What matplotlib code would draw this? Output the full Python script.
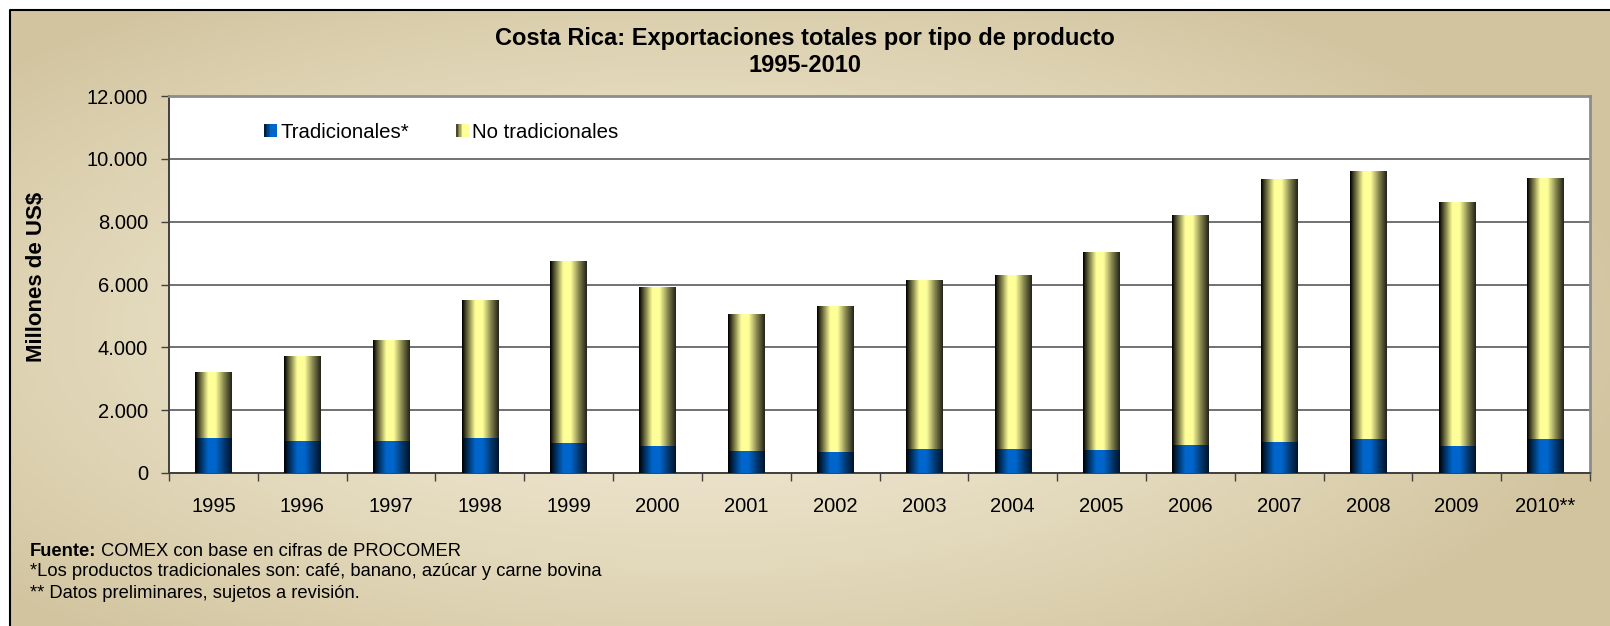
import numpy as np
import matplotlib
matplotlib.use('Agg')
import matplotlib.pyplot as plt
from matplotlib.colors import LinearSegmentedColormap
from matplotlib.patches import Rectangle
from matplotlib.legend_handler import HandlerBase
from matplotlib.ticker import FixedLocator, FuncFormatter

plt.rcParams['font.family'] = ['Liberation Sans', 'DejaVu Sans']

# data (millones de US$)
anios = ['1995', '1996', '1997', '1998', '1999', '2000', '2001', '2002',
         '2003', '2004', '2005', '2006', '2007', '2008', '2009', '2010**']
tradicionales = [1120, 1025, 1025, 1120, 970, 870, 715, 680,
                 775, 775, 745, 905, 985, 1080, 855, 1080]
no_tradicionales = [2070, 2675, 3185, 4370, 5765, 5035, 4330, 4620,
                    5355, 5515, 6275, 7295, 8370, 8500, 7760, 8305]

W, H = 1610, 626
fig = plt.figure(figsize=(W / 100, H / 100), dpi=100)
fig.patch.set_facecolor('white')

# background panel with soft tan gradient
bg = fig.add_axes([0, 0, 1, 1], zorder=-5)
bg.set_xlim(0, W)
bg.set_ylim(H, 0)
bg.axis('off')
xx, yy = np.meshgrid(np.linspace(10, W, 400), np.linspace(10, H, 160))
r = np.sqrt(((xx - 700) / 950) ** 2 + ((yy - 330) / 400) ** 2)
r = np.clip(r, 0, 1) ** 1.4
tan_cmap = LinearSegmentedColormap.from_list('tan', ['#f1ead7', '#e2d8ba', '#d2c49f'])
bg.imshow(r, cmap=tan_cmap, extent=[10, W, H, 10], aspect='auto', vmin=0, vmax=1)
bg.plot([10, 10, W], [H, 10, 10], color='black', lw=1.5)

# bar gradients
cmap_yel = LinearSegmentedColormap.from_list('yel', [
    (0.0, '#000000'), (0.12, '#5a5a33'), (0.36, '#ffff99'), (0.56, '#ffff99'),
    (0.78, '#8a8a52'), (1.0, '#24241a')])
cmap_blu = LinearSegmentedColormap.from_list('blu', [
    (0.0, '#000000'), (0.12, '#00264d'), (0.36, '#0066cc'), (0.56, '#0066cc'),
    (0.78, '#003a75'), (1.0, '#00142a')])

ax = fig.add_axes([169 / W, 1 - 473 / H, (1590 - 169) / W, (473 - 96) / H])
ax.set_facecolor('white')

x = np.arange(len(anios))
bars_t = ax.bar(x, tradicionales, width=0.41, color='none', zorder=3)
bars_n = ax.bar(x, no_tradicionales, width=0.41, bottom=tradicionales, color='none', zorder=3)

grad = np.linspace(0, 1, 64).reshape(1, -1)
for bars, cm in [(bars_t, cmap_blu), (bars_n, cmap_yel)]:
    for p in bars:
        x0, y0 = p.get_x(), p.get_y()
        ax.imshow(grad, cmap=cm, aspect='auto', zorder=3,
                  extent=[x0, x0 + p.get_width(), y0, y0 + p.get_height()])

ax.set_xlim(-0.5, len(anios) - 0.5)
ax.set_ylim(0, 12000)
ax.set_yticks(np.arange(0, 12001, 2000))
ax.yaxis.set_major_formatter(FuncFormatter(lambda v, pos: f'{int(v):,}'.replace(',', '.')))
ax.yaxis.grid(True, color='#4a4a4a', lw=1.1, zorder=1)
ax.set_axisbelow(True)

ax.set_xticks(x)
ax.set_xticklabels(anios)
ax.xaxis.set_minor_locator(FixedLocator(np.arange(-0.5, len(anios), 1)))
ax.tick_params(axis='x', which='major', length=0, pad=17, labelsize=14.5)
ax.tick_params(axis='x', which='minor', length=6, width=1, color='#404040', direction='out')
ax.tick_params(axis='y', length=6, width=1, color='#404040', pad=9, labelsize=14.5)

for s in ['left', 'bottom']:
    ax.spines[s].set_color('#404040')
    ax.spines[s].set_linewidth(1.4)
for s in ['top', 'right']:
    ax.spines[s].set_color('#8c8c8c')
    ax.spines[s].set_linewidth(2)


class GradHandler(HandlerBase):
    def __init__(self, cmap):
        super().__init__()
        self.cmap = cmap

    def create_artists(self, legend, orig_handle, xdescent, ydescent, width, height, fontsize, trans):
        n = 8
        arts = []
        for i in range(n):
            c = self.cmap(0.1 + 0.45 * i / (n - 1))
            arts.append(Rectangle((-xdescent + i * width / n, -ydescent), width / n + 0.3, height,
                                  facecolor=c, edgecolor='none', transform=trans))
        return arts


h_t = Rectangle((0, 0), 1, 1)
h_n = Rectangle((0, 0), 1, 1)
leg = ax.legend([h_t, h_n], ['Tradicionales*', 'No tradicionales'], ncol=2,
                handler_map={h_t: GradHandler(cmap_blu), h_n: GradHandler(cmap_yel)},
                loc='center left', bbox_to_anchor=(264 / W, 1 - 132 / H),
                bbox_transform=fig.transFigure, frameon=False, fontsize=14.7,
                borderpad=0, borderaxespad=0, handlelength=0.6, handleheight=0.6,
                handletextpad=0.2, columnspacing=2.3)
leg.set_zorder(5)

# titles and labels
fig.text(805 / W, 1 - 39 / H, 'Costa Rica: Exportaciones totales por tipo de producto',
         ha='center', va='center', fontsize=17, fontweight='bold')
fig.text(805 / W, 1 - 65 / H, '1995-2010', ha='center', va='center',
         fontsize=17, fontweight='bold')
fig.text(37 / W, 1 - 277 / H, 'Millones de US$', rotation=90, ha='center', va='center',
         fontsize=16, fontweight='bold')

# footnotes
fx = 30 / W
fs = 13.2
t1 = fig.text(fx, 1 - 551 / H, 'Fuente:', fontsize=fs, fontweight='bold', va='center')
renderer = fig.canvas.get_renderer()
bb = t1.get_window_extent(renderer=renderer)
fig.text(bb.x1 / W, 1 - 551 / H, ' COMEX con base en cifras de PROCOMER', fontsize=fs, va='center')
fig.text(fx, 1 - 572 / H, '*Los productos tradicionales son: café, banano, azúcar y carne bovina',
         fontsize=fs, va='center')
fig.text(fx, 1 - 593 / H, '** Datos preliminares, sujetos a revisión.', fontsize=fs, va='center')

fig.savefig('out.png', dpi=100)
